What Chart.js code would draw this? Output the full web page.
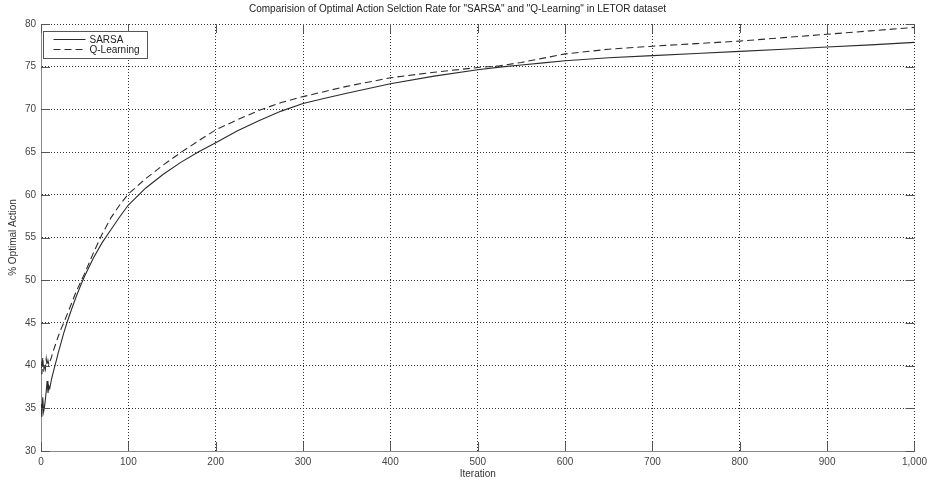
<!DOCTYPE html>
<html>
<head>
<meta charset="utf-8">
<script src="https://cdn.jsdelivr.net/npm/chart.js@4/dist/chart.umd.min.js"></script>
<style>
  html, body { margin: 0; padding: 0; background: #ffffff; }
  #c { display: block; }
</style>
</head>
<body>
<canvas id="c" width="932" height="481"></canvas>
<script>
const iterations = [0,1,2,3,4,5,6,7,8,9,10,12,14,16,18,20,23,26,30,35,40,45,50,60,70,80,90,100,120,140,160,180,200,225,250,275,300,325,350,400,450,500,525,550,575,600,650,700,750,800,850,900,950,1000];
const sarsa = [35.5,34.0,36.3,34.6,35.2,36.0,37.0,38.2,36.8,37.6,37.3,38.4,39.2,40.0,40.8,41.6,42.7,43.8,45.1,46.6,48.0,49.3,50.5,52.6,54.4,55.9,57.4,58.8,60.8,62.4,63.8,65.0,66.1,67.5,68.7,69.8,70.7,71.3,71.9,73.0,73.9,74.65,74.95,75.2,75.45,75.7,76.05,76.3,76.55,76.8,77.05,77.3,77.55,77.85];
const qlearning = [40.5,39.0,41.0,39.3,40.2,39.6,40.8,40.0,40.6,40.1,40.4,41.0,41.7,42.3,42.9,43.5,44.3,45.0,46.0,47.3,48.6,49.7,50.8,53.2,55.4,57.3,58.8,60.1,61.9,63.5,64.95,66.3,67.6,68.8,69.9,70.8,71.5,72.1,72.7,73.7,74.35,74.9,75.1,75.5,76.0,76.5,77.05,77.4,77.7,78.0,78.4,78.8,79.2,79.6];
const seriesNames = ['SARSA', 'Q-Learning'];
const xTicks = [0,100,200,300,400,500,600,700,800,900,1000];
const yTicks = [30,35,40,45,50,55,60,65,70,75,80];
const titleText = 'Comparision of Optimal Action Selction Rate for "SARSA" and "Q-Learning" in LETOR dataset';

const FONT = "'Liberation Sans', Arial, sans-serif";

const toPoints = (xs, ys) => xs.map((x, i) => ({x: x, y: ys[i]}));

const innerTicks = {
  id: 'innerTicks',
  afterDraw(chart) {
    const {ctx, chartArea: a, scales: {x, y}} = chart;
    const len = 9;
    ctx.save();
    ctx.strokeStyle = '#555';
    ctx.lineWidth = 1;
    ctx.beginPath();
    xTicks.forEach(v => {
      const px = Math.round(x.getPixelForValue(v)) + 0.5;
      ctx.moveTo(px, a.bottom); ctx.lineTo(px, a.bottom - len);
      ctx.moveTo(px, a.top); ctx.lineTo(px, a.top + len);
    });
    yTicks.forEach(v => {
      const py = Math.round(y.getPixelForValue(v)) + 0.5;
      ctx.moveTo(a.left, py); ctx.lineTo(a.left + len, py);
      ctx.moveTo(a.right, py); ctx.lineTo(a.right - len, py);
    });
    ctx.stroke();
    ctx.restore();
  }
};

const boxLegend = {
  id: 'boxLegend',
  afterDraw(chart) {
    const {ctx, chartArea: a} = chart;
    const bx = a.left + 2.5, by = 31.5, bw = 104, bh = 27;
    ctx.save();
    ctx.fillStyle = '#ffffff';
    ctx.fillRect(bx, by, bw, bh);
    ctx.strokeStyle = '#555';
    ctx.lineWidth = 1;
    ctx.setLineDash([]);
    ctx.strokeRect(bx, by, bw, bh);
    const rows = [by + 8, by + 18];
    const dashes = [[], [7, 4]];
    chart.data.datasets.forEach((ds, i) => {
      ctx.strokeStyle = ds.borderColor;
      ctx.lineWidth = 1;
      ctx.setLineDash(dashes[i]);
      ctx.beginPath();
      ctx.moveTo(bx + 10, rows[i]);
      ctx.lineTo(bx + 42, rows[i]);
      ctx.stroke();
      ctx.setLineDash([]);
      ctx.fillStyle = '#222';
      ctx.font = '10px ' + FONT;
      ctx.textBaseline = 'middle';
      ctx.textAlign = 'left';
      ctx.fillText(ds.label, bx + 46, rows[i] + 0.5);
    });
    ctx.restore();
  }
};

new Chart(document.getElementById('c'), {
  type: 'line',
  data: {
    datasets: [
      {
        label: seriesNames[0],
        data: toPoints(iterations, sarsa),
        borderColor: '#2b2b2b',
        borderWidth: 1.1,
        pointRadius: 0,
        tension: 0,
        fill: false
      },
      {
        label: seriesNames[1],
        data: toPoints(iterations, qlearning),
        borderColor: '#2b2b2b',
        borderWidth: 1.1,
        borderDash: [7, 4],
        pointRadius: 0,
        tension: 0,
        fill: false
      }
    ]
  },
  options: {
    responsive: false,
    animation: false,
    devicePixelRatio: 1,
    layout: { padding: { left: 0, right: 17, top: 0, bottom: 0 } },
    plugins: {
      legend: { display: false },
      tooltip: { enabled: false },
      title: {
        display: true,
        text: titleText,
        color: '#222',
        font: { family: FONT, size: 10, weight: 'normal' },
        padding: { top: 3, bottom: 9 }
      }
    },
    scales: {
      x: {
        type: 'linear',
        min: 0,
        max: 1000,
        afterBuildTicks: s => { s.ticks = xTicks.map(v => ({value: v})); },
        afterFit: s => { s.height = 30; },
        ticks: {
          color: '#444',
          font: { family: FONT, size: 10 },
          padding: 5,
          maxRotation: 0,
          autoSkip: false,
          callback: v => v.toLocaleString('en-US')
        },
        grid: { color: '#333', lineWidth: 1, drawTicks: false },
        border: { display: true, color: '#888', width: 1, dash: [1, 2] },
        title: {
          display: true,
          text: 'Iteration',
          color: '#333',
          font: { family: FONT, size: 10 },
          padding: { top: 0, bottom: 1 }
        }
      },
      y: {
        type: 'linear',
        min: 30,
        max: 80,
        afterBuildTicks: s => { s.ticks = yTicks.map(v => ({value: v})); },
        afterFit: s => { s.width = 41; },
        ticks: {
          color: '#444',
          font: { family: FONT, size: 10 },
          padding: 5,
          autoSkip: false
        },
        grid: { color: '#333', lineWidth: 1, drawTicks: false },
        border: { display: true, color: '#888', width: 1, dash: [1, 2] },
        title: {
          display: true,
          text: '% Optimal Action',
          color: '#333',
          font: { family: FONT, size: 10 },
          padding: { top: 7, bottom: 0 }
        }
      }
    }
  },
  plugins: [innerTicks, boxLegend]
});
</script>
</body>
</html>
